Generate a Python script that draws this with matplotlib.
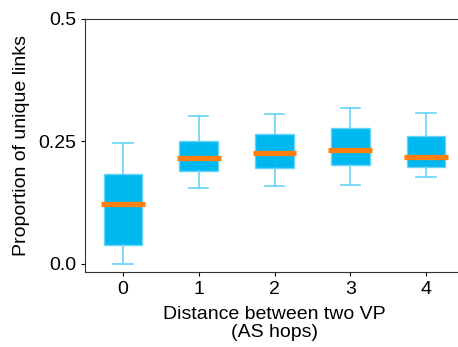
import matplotlib
matplotlib.use("Agg")
import matplotlib.pyplot as plt

plt.rcParams['font.family'] = ['Liberation Sans', 'DejaVu Sans']

# box stats, one entry per distance
distances = [0, 1, 2, 3, 4]
whislo = [0.000, 0.154, 0.160, 0.162, 0.178]
q1 = [0.038, 0.189, 0.196, 0.202, 0.198]
med = [0.122, 0.217, 0.227, 0.232, 0.218]
q3 = [0.183, 0.251, 0.265, 0.277, 0.261]
whishi = [0.247, 0.302, 0.306, 0.318, 0.308]

stats = []
for i in range(len(distances)):
    stats.append({'whislo': whislo[i], 'q1': q1[i], 'med': med[i],
                  'q3': q3[i], 'whishi': whishi[i], 'fliers': []})

fig = plt.figure(figsize=(4.58, 3.47), dpi=100)
ax = fig.add_axes([85 / 458, 1 - 271.7 / 347, (464 - 85) / 458, (271.7 - 18.7) / 347])

light = '#66d3f6'
ax.bxp(stats, positions=distances, widths=0.51, patch_artist=True,
       boxprops=dict(facecolor='#00b8f0', edgecolor=light, linewidth=1),
       whiskerprops=dict(color=light, linewidth=1.2),
       capprops=dict(color=light, linewidth=1.2),
       medianprops=dict(linewidth=0))
# medians drawn a bit wider than the boxes, as in the original
ax.hlines(med, [d - 0.29 for d in distances], [d + 0.29 for d in distances],
          color='#ff7f0e', linewidth=3.8, zorder=3)

ax.set_xlim(-0.5, 4.5)
ax.set_ylim(-0.0157, 0.5)
ax.set_yticks([0.0, 0.25, 0.5])
ax.set_yticklabels(['0.0', '0.25', '0.5'])
ax.set_xticks(distances)
ax.set_xticklabels([str(d) for d in distances])
ax.tick_params(labelsize=14, length=3, width=0.8)
ax.set_xlabel('Distance between two VP\n(AS hops)', fontsize=14, linespacing=1.1, labelpad=6)
ax.set_ylabel('Proportion of unique links', fontsize=14, labelpad=6)
for s in ax.spines.values():
    s.set_color('#333333')

fig.savefig('out.png', dpi=100)
